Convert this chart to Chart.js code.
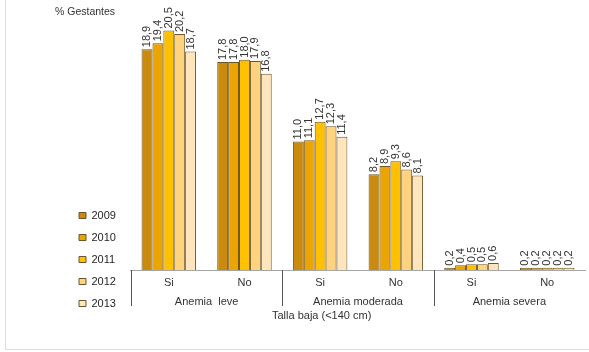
<!DOCTYPE html>
<html>
<head>
<meta charset="utf-8">
<script src="https://cdn.jsdelivr.net/npm/chart.js@4/dist/chart.umd.min.js"></script>
<style>
    html, body { margin: 0; padding: 0; background: #fff; }
    #wrap { position: relative; width: 589px; height: 352px; }
    #frame { position: absolute; left: 5px; top: 0; width: 584px; height: 350px; border-left: 1px solid #dcdcdc; border-bottom: 1px solid #dcdcdc; box-sizing: border-box; pointer-events: none; }
</style>
</head>
<body>
<div id="wrap">
    <canvas id="chart" width="589" height="352"></canvas>
    <div id="frame"></div>
</div>
<script>
// Data
const categories = ['Si', 'No', 'Si', 'No', 'Si', 'No'];
const groups = ['Anemia  leve', 'Anemia moderada', 'Anemia severa'];
const years = ['2009', '2010', '2011', '2012', '2013'];
const values2009 = [18.9, 17.8, 11.0, 8.2, 0.2, 0.2];
const values2010 = [19.4, 17.8, 11.1, 8.9, 0.4, 0.2];
const values2011 = [20.5, 18.0, 12.7, 9.3, 0.5, 0.2];
const values2012 = [20.2, 17.9, 12.3, 8.6, 0.5, 0.2];
const values2013 = [18.7, 16.8, 11.4, 8.1, 0.6, 0.2];
const yTitle = '% Gestantes';
const xTitle = 'Talla baja (<140 cm)';

const seriesValues = [values2009, values2010, values2011, values2012, values2013];
const colors = ['#C98A0E', '#EBA400', '#FFC000', '#FFD27E', '#FFE5BC'];
const fontFamily = "'Liberation Sans', Arial, sans-serif";

let datasets = [];
for (let i in years) {
    datasets.push({
        label: years[i],
        data: seriesValues[i],
        backgroundColor: colors[i],
        borderColor: '#6b5528',
        borderWidth: 1,
        categoryPercentage: 0.72,
        barPercentage: 1
    });
}

// Draws the rotated value labels above each bar
const valueLabels = {
    id: 'valueLabels',
    afterDatasetsDraw(chart) {
        let ctx = chart.ctx;
        ctx.save();
        ctx.font = '11px ' + fontFamily;
        ctx.fillStyle = '#333';
        ctx.textAlign = 'left';
        ctx.textBaseline = 'middle';
        chart.data.datasets.forEach((ds, di) => {
            let meta = chart.getDatasetMeta(di);
            meta.data.forEach((bar, i) => {
                let txt = ds.data[i].toFixed(1).replace('.', ',');
                ctx.save();
                ctx.translate(bar.x, bar.y - 2);
                ctx.rotate(-Math.PI / 2);
                ctx.fillText(txt, 0, 0);
                ctx.restore();
            });
        });
        ctx.restore();
    }
};

// Group separators under the axis and the axis captions
const captions = {
    id: 'captions',
    afterDraw(chart) {
        let ctx = chart.ctx;
        let area = chart.chartArea;
        let xScale = chart.scales.x;
        let half = (xScale.getPixelForValue(1) - xScale.getPixelForValue(0)) / 2;
        ctx.save();
        ctx.strokeStyle = '#555';
        ctx.lineWidth = 1;
        for (let i = 0; i < categories.length; i += 2) {
            let px = Math.round(xScale.getPixelForValue(i) - half) + 0.5;
            ctx.beginPath();
            ctx.moveTo(px, area.bottom);
            ctx.lineTo(px, area.bottom + 36);
            ctx.stroke();
        }
        ctx.fillStyle = '#333';
        ctx.textBaseline = 'middle';
        ctx.font = '10.5px ' + fontFamily;
        ctx.textAlign = 'left';
        ctx.fillText(yTitle, 55, 12);
        ctx.font = '11px ' + fontFamily;
        ctx.textAlign = 'center';
        ctx.fillText(xTitle, area.left + area.width * 0.42, 316);
        ctx.restore();
    }
};

new Chart(document.getElementById('chart'), {
    type: 'bar',
    data: {
        labels: categories,
        datasets: datasets
    },
    plugins: [valueLabels, captions],
    options: {
        responsive: false,
        animation: false,
        layout: {
            padding: { top: 13, right: 4, bottom: 32, left: 68 }
        },
        plugins: {
            legend: {
                position: 'left',
                align: 'end',
                labels: {
                    boxWidth: 7,
                    boxHeight: 6,
                    padding: 11,
                    color: '#262626',
                    font: { family: fontFamily, size: 11 }
                }
            },
            tooltip: { enabled: false }
        },
        scales: {
            x: {
                offset: true,
                grid: { display: false, drawTicks: false },
                border: { display: true, color: '#a6a6a6' },
                ticks: {
                    padding: 6,
                    color: '#333',
                    font: { family: fontFamily, size: 11 },
                    maxRotation: 0,
                    autoSkip: false
                },
                afterFit: (scale) => { scale.height = 22; }
            },
            x2: {
                type: 'category',
                labels: groups,
                position: 'bottom',
                offset: true,
                grid: { display: false, drawTicks: false },
                border: { display: false },
                ticks: {
                    padding: 3,
                    color: '#333',
                    font: { family: fontFamily, size: 11 },
                    maxRotation: 0,
                    autoSkip: false
                },
                afterFit: (scale) => { scale.height = 28; }
            },
            y: {
                min: 0,
                max: 22,
                grid: { display: false },
                border: { display: false },
                ticks: { display: false },
                afterFit: (scale) => { scale.width = 5; }
            }
        }
    }
});
</script>
</body>
</html>
